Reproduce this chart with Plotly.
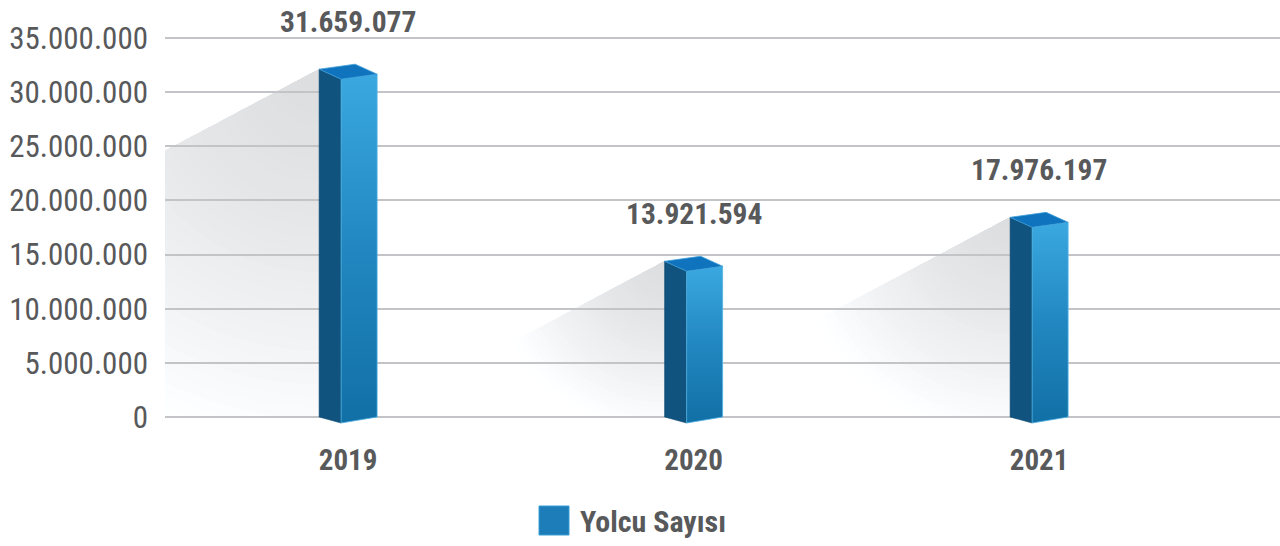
import math
import plotly.graph_objects as go

# ---------------- data ----------------
years = ["2019", "2020", "2021"]
passengers = [31659077, 13921594, 17976197]
value_labels = ["31.659.077", "13.921.594", "17.976.197"]
y_tick_values = [0, 5000000, 10000000, 15000000, 20000000, 25000000, 30000000, 35000000]
y_tick_labels = ["0", "5.000.000", "10.000.000", "15.000.000", "20.000.000",
                 "25.000.000", "30.000.000", "35.000.000"]
legend_name = "Yolcu Sayısı"

# ---------------- layout geometry (styles) ----------------
W, H = 1280, 546
ML, MR, MT, MB = 165, 0, 10, 106
PW, PH = W - ML - MR, H - MT - MB
PX_PER_X = 345.5                      # pixels per category step
X0 = -0.53
X1 = X0 + PW / PX_PER_X
PX_PER_V = 379 / 35e6                 # pixels per passenger
ZERO_PX = 417                         # pixel row of the 0 gridline
Y_TOP = (ZERO_PX - MT) / PX_PER_V
Y_BOT = -(MT + PH - ZERO_PX) / PX_PER_V

def dx(px):
    return px / PX_PER_X

def dv(px_up):
    return px_up / PX_PER_V

def to_px(x, v):
    return ML + (x - X0) * PX_PER_X, ZERO_PX - v * PX_PER_V

def to_data(px, py):
    return X0 + (px - ML) / PX_PER_X, (ZERO_PX - py) / PX_PER_V

TEXT = "#58595b"
FONT = "Liberation Sans Narrow, Arial Narrow, Roboto Condensed, Roboto, sans-serif"

fig = go.Figure()

# ---------------- shadows (banded radial fade, drawn below gridlines) ----------------
def intersect(p1, p2, p3, p4):
    x1, y1 = p1; x2, y2 = p2; x3, y3 = p3; x4, y4 = p4
    den = (x1 - x2) * (y3 - y4) - (y1 - y2) * (x3 - x4)
    if abs(den) < 1e-12:
        return p2
    t = ((x1 - x3) * (y3 - y4) - (y1 - y3) * (x3 - x4)) / den
    return (x1 + t * (x2 - x1), y1 + t * (y2 - y1))

def clip_poly(subject, clipper):
    # Sutherland-Hodgman against a convex clipper
    def cross(o, a, b):
        return (a[0] - o[0]) * (b[1] - o[1]) - (a[1] - o[1]) * (b[0] - o[0])
    n = len(clipper)
    area = sum(clipper[i][0] * clipper[(i + 1) % n][1] -
               clipper[(i + 1) % n][0] * clipper[i][1] for i in range(n))
    sgn = 1 if area > 0 else -1
    out = subject
    for i in range(n):
        a, b = clipper[i], clipper[(i + 1) % n]
        inp, out = out, []
        if not inp:
            break
        s = inp[-1]
        for e in inp:
            ein = sgn * cross(a, b, e) >= 0
            sin_ = sgn * cross(a, b, s) >= 0
            if ein:
                if not sin_:
                    out.append(intersect(s, e, a, b))
                out.append(e)
            elif sin_:
                out.append(intersect(s, e, a, b))
            s = e
    return out

SLOPE = 0.53      # shadow edge: px down per px left
NBANDS = 34
for i, v in enumerate(passengers):
    ax, ay = to_px(i - dx(29), v + dv(5))
    bar_h = ZERO_PX - ay
    R = 1.1 * bar_h
    xb = ax - (ZERO_PX - ay) / SLOPE
    if xb < ML:
        poly = [(ax, ay), (ML, ay + SLOPE * (ax - ML)), (ML, ZERO_PX), (ax, ZERO_PX)]
    else:
        poly = [(ax, ay), (xb, ZERO_PX), (ax, ZERO_PX)]
    for k in range(NBANDS, 0, -1):
        r = R * k / NBANDS
        t = (k - 0.5) / NBANDS
        g = 221 + 34 * t ** 1.4
        col = "rgb(%d,%d,%d)" % (round(g), round(min(255, g + 1)), round(min(255, g + 3)))
        sector = [(ax, ay)]
        for j in range(41):
            ang = math.radians(80 + 90 * j / 40)
            sector.append((ax + r * math.cos(ang), ay + r * math.sin(ang)))
        piece = clip_poly(sector, poly)
        if len(piece) < 3:
            continue
        pts = [to_data(px, py) for px, py in piece]
        path = "M " + " L ".join("%.6f,%.3f" % p for p in pts) + " Z"
        fig.add_shape(type="path", xref="x", yref="y", path=path, layer="below",
                      fillcolor=col, line=dict(width=0))

# ---------------- 3D bars ----------------
for i, v in enumerate(passengers):
    xl, xf, xr, xb = i - dx(29), i - dx(7), i + dx(29), i + dx(7)
    v_left, v_front, v_right, v_back = v + dv(5), v - dv(5), v, v + dv(10)
    b_side, b_front = 0, -dv(6)
    fig.add_trace(go.Scatter(
        x=[xl, xf, xf, xl, xl], y=[v_left, v_front, b_front, b_side, v_left],
        mode="lines", fill="toself", fillcolor="#10537e",
        line=dict(width=0.6, color="#0d4a72"), hoverinfo="skip", showlegend=False))
    fig.add_trace(go.Scatter(
        x=[xf, xr, xr, xf, xf], y=[v_front, v_right, b_side, b_front, v_front],
        mode="lines", fill="toself",
        fillgradient=dict(type="vertical",
                          colorscale=[[0, "#1170a6"], [0.5, "#2287c0"], [1, "#3aa8e0"]]),
        line=dict(width=0.8, color="#4fb3e6"), hoverinfo="skip", showlegend=False))
    fig.add_trace(go.Scatter(
        x=[xl, xb, xr, xf, xl], y=[v_left, v_back, v_right, v_front, v_left],
        mode="lines", fill="toself", fillcolor="#0f73be",
        line=dict(width=0.8, color="#3f9fd8"), hoverinfo="skip", showlegend=False))

# value labels
for i, (v, lab) in enumerate(zip(passengers, value_labels)):
    fig.add_annotation(x=i, y=v, text=lab, showarrow=False, yshift=52,
                       xanchor="center", yanchor="middle",
                       font=dict(family=FONT, size=29.5, color=TEXT, weight="bold"))

# legend (drawn as shape + text)
def xp(px):
    return (px - ML) / PW

def yp(py):
    return (MT + PH - py) / PH

fig.add_shape(type="rect", xref="paper", yref="paper",
              x0=xp(539), x1=xp(569), y0=yp(535), y1=yp(506),
              fillcolor="#1d7db8", line=dict(width=1, color="#3a9ed6"))
fig.add_annotation(xref="paper", yref="paper", x=xp(578), y=yp(521),
                   text=legend_name, showarrow=False, xanchor="left", yanchor="middle",
                   font=dict(family=FONT, size=30, color=TEXT, weight="bold"))

fig.update_layout(
    width=W, height=H,
    margin=dict(l=ML, r=MR, t=MT, b=MB),
    paper_bgcolor="white", plot_bgcolor="white",
    showlegend=False,
    xaxis=dict(range=[X0, X1], tickvals=[0, 1, 2], ticktext=years,
               showgrid=False, zeroline=False, showline=False, ticks="",
               ticklabelstandoff=0,
               tickfont=dict(family=FONT, size=29, color=TEXT, weight="bold")),
    yaxis=dict(range=[Y_BOT, Y_TOP], tickvals=y_tick_values, ticktext=y_tick_labels,
               showgrid=True, gridcolor="#c3c4c8", gridwidth=1.6,
               zeroline=False, showline=False, ticks="", ticklabelstandoff=16,
               tickfont=dict(family=FONT, size=31, color=TEXT)),
)

fig.write_html("out.html", config={"displayModeBar": False},
               post_script="document.body.style.margin='0px';")
